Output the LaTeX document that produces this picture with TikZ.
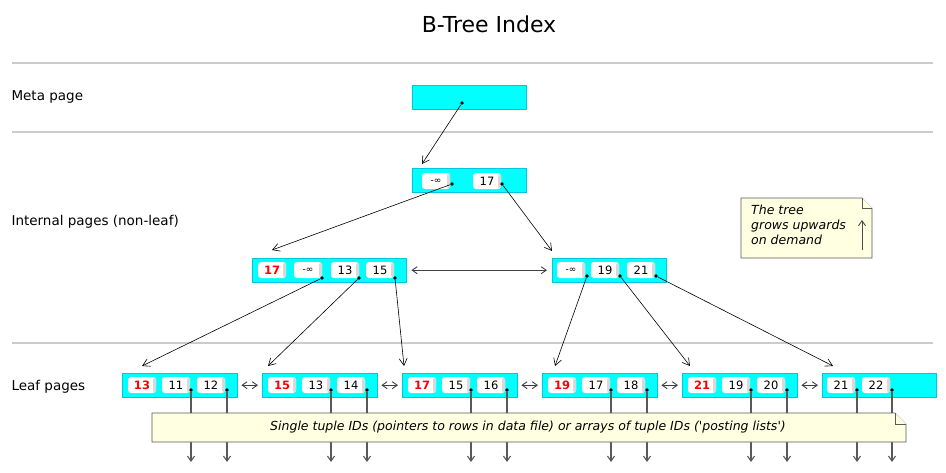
\documentclass[tikz,border=0pt]{standalone}
\usepackage{fontspec}
\setmainfont{DejaVu Sans}
\newfontfamily\notefont{DejaVu Sans}
\usetikzlibrary{arrows.meta,shapes.misc}
\definecolor{pg}{RGB}{0,255,255}
\definecolor{pgd}{RGB}{0,200,220}
\definecolor{ny}{RGB}{255,255,225}
\begin{document}
\begin{tikzpicture}[x=1pt,y=-1pt,
  page/.style={fill=pg,draw=pgd,minimum height=24pt,inner sep=0pt,anchor=north west},
  pill/.style={fill=white,rounded corners=3pt,minimum width=28pt,minimum height=16pt,inner sep=0pt,font=\fontsize{11.5}{12}\selectfont,
    path picture={\fill[gray!30] ([xshift=-3pt]path picture bounding box.north east) rectangle (path picture bounding box.south east);}},
  hi/.style={pill,text=red,font=\fontsize{11.5}{12}\selectfont\bfseries},
  dot/.style={circle,fill=black,inner sep=0pt,minimum size=3.6pt},
  arr/.style={-{Straight Barb[length=7pt,width=8pt]},line width=0.6pt},
  arrb/.style={{Straight Barb[length=5pt,width=7pt]}-{Straight Barb[length=5pt,width=7pt]},line width=0.9pt,draw=black!75},
  sep/.style={draw=gray!40,line width=1.2pt},
  lbl/.style={anchor=west,font=\fontsize{13.5}{15}\selectfont},
  note/.style={fill=ny,draw=black!65,line width=0.7pt},
  tid/.style={draw=black!65,line width=1.1pt},
  tidarr/.style={tid,-{Straight Barb[length=5pt,width=7pt]}}]
\useasboundingbox (0,0) rectangle (946,472);
\node[font=\fontsize{22}{24}\selectfont] (title) at (489,24) {B-Tree Index};
\coordinate (l1a) at (12,63); \coordinate (l1b) at (933,63);
\coordinate (l2a) at (12,132); \coordinate (l2b) at (933,132);
\coordinate (l3a) at (12,343); \coordinate (l3b) at (933,343);
\draw[sep] (l1a)--(l1b); \draw[sep] (l2a)--(l2b); \draw[sep] (l3a)--(l3b);
\node[lbl] (lm) at (8,97) {Meta page};
\node[lbl] (li) at (8,222) {Internal pages (non-leaf)};
\node[lbl] (ll) at (8,387) {Leaf pages};
% meta
\node[page,minimum width=114pt] (meta) at (412,85) {};
\node[dot] (md) at (462,103) {};
% root
\node[page,minimum width=114pt] (root) at (412,168) {};
\node[pill,font=\fontsize{9}{10}\selectfont] (r1) at (436,181) {-∞};
\node[pill] (r2) at (487,181) {17};
\node[dot] (r1d) at (452,184) {}; \node[dot] (r2d) at (502,184) {};
% internal left
\node[page,minimum width=154pt] (il) at (252,258) {};
\node[hi] (il0) at (272,270) {17};
\node[pill,font=\fontsize{9}{10}\selectfont] (il1) at (308,270) {-∞};
\node[pill] (il2) at (345,270) {13};
\node[pill] (il3) at (380,270) {15};
\node[dot] (il1d) at (322,278) {}; \node[dot] (il2d) at (359,278) {}; \node[dot] (il3d) at (395,278) {};
% internal right
\node[page,minimum width=114pt] (ir) at (552,258) {};
\node[pill,font=\fontsize{9}{10}\selectfont] (ir1) at (571,270) {-∞};
\node[pill] (ir2) at (605,270) {19};
\node[pill] (ir3) at (641,270) {21};
\node[dot] (ir1d) at (587,276) {}; \node[dot] (ir2d) at (620,276) {}; \node[dot] (ir3d) at (656,276) {};
% leaves
\foreach \n/\x/\a/\b/\c in {A/122/13/11/12,B/262/15/13/14,C/402/17/15/16,D/542/19/17/18,E/682/21/19/20}{
  \node[page,minimum width=115pt] (leaf\n) at (\x,373) {};
  \node[hi] (leaf\n0) at (\x+20,385) {\a};
  \node[pill] (leaf\n1) at (\x+54,385) {\b};
  \node[pill] (leaf\n2) at (\x+89,385) {\c};
  \node[dot] (leaf\n1d) at (\x+69,390) {};
  \node[dot] (leaf\n2d) at (\x+105,390) {};
  \coordinate (leaf\n1e) at (\x+69,462);
  \coordinate (leaf\n2e) at (\x+105,462);
  \draw[tidarr] (leaf\n1d)--(leaf\n1e);
  \draw[tidarr] (leaf\n2d)--(leaf\n2e);
}
\node[page,minimum width=114pt] (leafF) at (822,373) {};
\node[pill] (leafF1) at (841,385) {21};
\node[pill] (leafF2) at (876,385) {22};
\node[dot] (leafF1d) at (857,390) {}; \node[dot] (leafF2d) at (892,390) {};
\coordinate (leafF1e) at (857,462); \coordinate (leafF2e) at (892,462);
\draw[tidarr] (leafF1d)--(leafF1e);
\draw[tidarr] (leafF2d)--(leafF2e);
% sibling links
\draw[arrb] ([xshift=5pt]il.east)--([xshift=-5pt]ir.west);
\draw[arrb] ([xshift=4pt]leafA.east)--([xshift=-4pt]leafB.west);
\draw[arrb] ([xshift=4pt]leafB.east)--([xshift=-4pt]leafC.west);
\draw[arrb] ([xshift=4pt]leafC.east)--([xshift=-4pt]leafD.west);
\draw[arrb] ([xshift=4pt]leafD.east)--([xshift=-4pt]leafE.west);
\draw[arrb] ([xshift=4pt]leafE.east)--([xshift=-4pt]leafF.west);
% child pointers
\coordinate (t0) at (422,164);
\coordinate (t1) at (272,250); \coordinate (t2) at (552,251);
\coordinate (ta) at (142,366); \coordinate (tb) at (268,366); \coordinate (tc) at (404,366);
\coordinate (td) at (555,366); \coordinate (te) at (690,366); \coordinate (tf) at (833,366);
\draw[arr] (md)--(t0);
\draw[arr] (r1d)--(t1); \draw[arr] (r2d)--(t2);
\draw[arr] (il1d)--(ta); \draw[arr] (il2d)--(tb); \draw[arr] (il3d)--(tc);
\draw[arr] (ir1d)--(td); \draw[arr] (ir2d)--(te); \draw[arr] (ir3d)--(tf);
% bottom note
\coordinate (n1) at (152,413); \coordinate (n2) at (895,413); \coordinate (n3) at (906,424);
\coordinate (n4) at (906,442); \coordinate (n5) at (152,442);
\draw[note] (n1)--(n2)--(n3)--(n4)--(n5)--cycle;
\draw[note] (n2)--(895,424)--(n3);
\node[font=\notefont\fontsize{12.5}{14}\selectfont\itshape] (nt) at (528,427) {Single tuple IDs (pointers to rows in data file) or arrays of tuple IDs ('posting lists')};
% tree note
\coordinate (m1) at (741,198); \coordinate (m2) at (862,198); \coordinate (m3) at (872,208);
\coordinate (m4) at (872,258); \coordinate (m5) at (741,258);
\draw[note] (m1)--(m2)--(m3)--(m4)--(m5)--cycle;
\draw[note] (m2)--(862,208)--(m3);
\node[anchor=north west,align=left,inner sep=0pt,font=\fontsize{12.5}{15}\selectfont\itshape] (mt) at (751,205) {The tree\\grows upwards\\on demand};
\coordinate (ma) at (862,250); \coordinate (mb) at (862,220);
\draw[-{Straight Barb[length=5pt,width=7pt]},line width=0.9pt,draw=black!70] (ma)--(mb);
\end{tikzpicture}
\end{document}
